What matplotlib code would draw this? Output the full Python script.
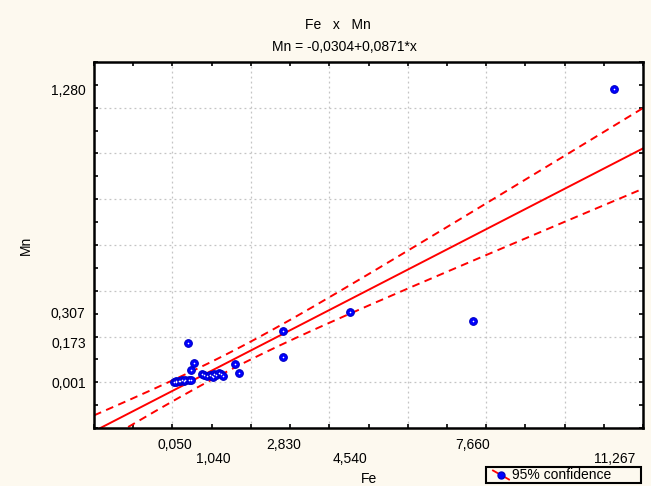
import numpy as np
import matplotlib
matplotlib.use('Agg')
import matplotlib.pyplot as plt
from matplotlib.lines import Line2D
from matplotlib.patches import Rectangle

plt.rcParams['font.family'] = ['Liberation Sans', 'DejaVu Sans']
plt.rcParams['font.size'] = 10

# data (the cluster near zero has overlapping points)
fe = [0.050, 0.08, 0.10, 0.16, 0.20, 0.25, 0.30, 0.33, 0.39, 0.42, 0.48, 0.48, 0.54,
      0.75, 0.80, 0.88, 0.95, 1.00, 1.04, 1.07, 1.12, 1.20, 1.25, 1.30,
      1.60, 1.70, 2.83, 2.83, 4.54, 7.66, 11.267]
mn = [0.001, 0.004, 0.003, 0.006, 0.005, 0.008, 0.007, 0.010, 0.173, 0.011, 0.012, 0.052, 0.086,
      0.035, 0.030, 0.028, 0.033, 0.028, 0.022, 0.035, 0.030, 0.042, 0.036, 0.028,
      0.079, 0.042, 0.223, 0.109, 0.307, 0.266, 1.280]

x_labels = [0.050, 1.040, 2.830, 4.540, 7.660, 11.267]
y_labels = [0.001, 0.173, 0.307, 1.280]
title = 'Fe   x   Mn'
subtitle = 'Mn = -0,0304+0,0871*x'
legend_label = '95% confidence'

x = np.array(fe)
y = np.array(mn)
n = len(x)
b1, b0 = np.polyfit(x, y, 1)
res = y - (b0 + b1 * x)
s = np.sqrt(np.sum(res ** 2) / (n - 2))
sxx = np.sum((x - x.mean()) ** 2)
t = 1.96 + 2.4 / (n - 2)  # approx t(0.975, n-2)

xx = np.linspace(-2, 12, 300)
fit = b0 + b1 * xx
half = t * s * np.sqrt(1 / n + (xx - x.mean()) ** 2 / sxx)

W, H = 651, 486
bg = '#fdf9ef'
fig = plt.figure(figsize=(W / 100, H / 100), dpi=100, facecolor=bg)
ax = fig.add_axes([94 / W, 1 - 428 / H, 549 / W, 366 / H])
ax.set_facecolor('white')

for gx in range(0, 12, 2):
    ax.axvline(gx, color='#c4c4c4', lw=0.9, ls=(0, (1.5, 2.5)), zorder=0)
for gy in np.arange(0, 1.3, 0.2):
    ax.axhline(gy, color='#c4c4c4', lw=0.9, ls=(0, (1.5, 2.5)), zorder=0)

ax.plot(xx, fit, color='#ff0000', lw=1.4, zorder=2)
ax.plot(xx, fit + half, color='#ff0000', lw=1.4, ls=(0, (4, 2.8)), zorder=2)
ax.plot(xx, fit - half, color='#ff0000', lw=1.4, ls=(0, (4, 2.8)), zorder=2)

ax.plot(x, y, 'o', ms=5.5, mfc='#0000ff', mec='#0000c8', mew=0.8, zorder=3)
ax.plot(x, y, 'o', ms=1.2, mfc='white', mec='white', mew=0, zorder=4)

ax.set_xlim(-2, 12)
ax.set_ylim(-0.2, 1.4)

ax.set_xticks(range(-2, 13), minor=True)
ax.set_xticks([])
ax.set_yticks(np.arange(-0.2, 1.41, 0.1), minor=True)
ax.set_yticks(y_labels)
ax.set_yticklabels([f'{v:.3f}'.replace('.', ',') for v in y_labels])
ax.tick_params(which='minor', direction='in', length=3, width=1.2,
               top=True, right=True, bottom=True, left=True)
ax.tick_params(which='major', axis='y', length=0, pad=6)

for i, v in enumerate(x_labels):
    off = -12.5 if i % 2 == 0 else -22.5
    ax.annotate(f'{v:.3f}'.replace('.', ','), xy=(v, 0), xycoords=('data', 'axes fraction'),
                xytext=(0, off), textcoords='offset points', ha='center', va='center')

for sp in ax.spines.values():
    sp.set_linewidth(1.8)

ax.set_xlabel('Fe', labelpad=28)
ax.set_ylabel('Mn', labelpad=13)

fig.text(338 / W, 1 - 25 / H, title, ha='center', va='center')
fig.text(344 / W, 1 - 47 / H, subtitle, ha='center', va='center')

# legend box drawn by hand (statistica style, diagonal line key)
fig.add_artist(Rectangle((486 / W, 1 - 483 / H), 155 / W, 16 / H, transform=fig.transFigure,
                         facecolor=bg, edgecolor='black', lw=1.5, zorder=5))
fig.add_artist(Line2D([493 / W, 509 / W], [1 - 470.5 / H, 1 - 479.5 / H], transform=fig.transFigure,
                      color='#ff0000', lw=1.3, zorder=6))
fig.add_artist(Line2D([501 / W], [1 - 475 / H], transform=fig.transFigure, marker='o', ms=5,
                      mfc='#0000ff', mec='#0000c8', lw=0, zorder=7))
fig.text(512 / W, 1 - 475 / H, legend_label, ha='left', va='center', zorder=8)

fig.savefig('out.png', dpi=100, facecolor=bg)
